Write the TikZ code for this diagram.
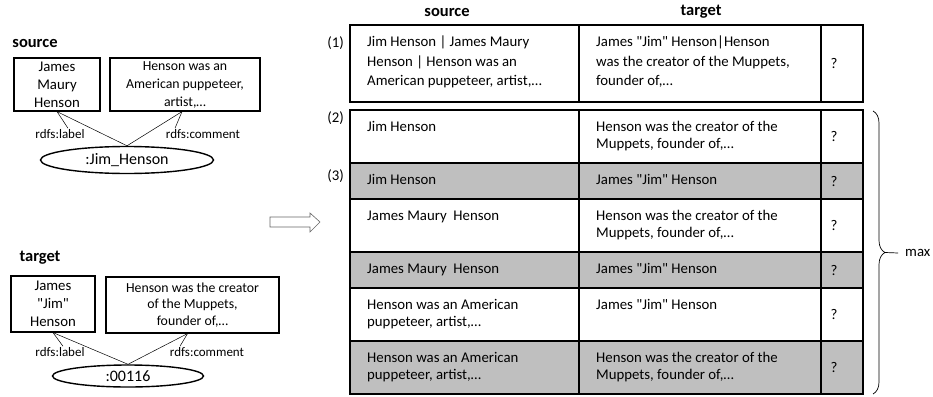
\documentclass[tikz,border=0pt]{standalone}
\usepackage{fontspec}
\setmainfont{Carlito}[Ligatures=TeXOff]
\usetikzlibrary{shapes.geometric,decorations.pathreplacing}
\definecolor{cellgray}{RGB}{191,191,191}

\begin{document}
\begin{tikzpicture}[x=1pt, y=-1pt, font=\fontsize{14.8}{17}\selectfont,
  head/.style={font=\fontsize{16.5}{18}\selectfont\bfseries, inner sep=0pt},
  tab/.style={line width=1.8pt},
  cell/.style={anchor=base west, align=left, inner sep=0pt},
  qmark/.style={inner sep=0pt},
  rowlab/.style={anchor=east, inner sep=0pt},
  box/.style={draw, line width=1.2pt, inner sep=0pt, align=center},
  res/.style={draw, ellipse, line width=1.4pt, inner sep=0pt, font=\fontsize{16}{18}\selectfont},
  prop/.style={inner sep=1pt, font=\fontsize{13}{15}\selectfont},
  edge/.style={line width=0.5pt}]

\useasboundingbox (0,0) rectangle (933,396);

% source graph
\node[head] (srchead) at (35,43) {source};
\node[box, minimum width=86pt, minimum height=53pt, font=\fontsize{14.8}{18}\selectfont] (sA) at (57,84.5) {James\\Maury\\Henson};
\node[box, minimum width=150pt, minimum height=53pt, font=\fontsize{13.8}{18}\selectfont] (sB) at (185,84.5) {Henson was an\\American puppeteer,\\artist,…};
\node[res, minimum width=173pt, minimum height=27pt] (sE) at (127,160) {:Jim\_Henson};
\node[prop] (sL) at (60,134) {rdfs:label};
\node[prop] (sC) at (203,134) {rdfs:comment};
\draw[edge] (sE.north) -- (sA.south);
\draw[edge] (sE.north) -- ([xshift=-3pt]sB.south);
\draw[edge] (sA.south) -- ([xshift=8pt]sL.north);
\draw[edge] ([xshift=-3pt]sB.south) -- ([xshift=-28pt]sC.north);

% target graph
\node[head] (tgthead) at (40,258) {target};
\node[box, minimum width=84pt, minimum height=56pt, font=\fontsize{14.8}{18}\selectfont] (tA) at (53,304) {James\\"Jim"\\Henson};
\node[box, minimum width=173pt, minimum height=56pt, font=\fontsize{13.8}{16.5}\selectfont] (tB) at (192.5,305) {Henson was the creator\\of the Muppets,\\founder of,…};
\node[res, minimum width=151pt, minimum height=22pt] (tE) at (128,376) {:00116};
\node[prop] (tL) at (60,352) {rdfs:label};
\node[prop] (tC) at (207,352) {rdfs:comment};
\draw[edge] (tE.north) -- (tA.south);
\draw[edge] (tE.north) -- ([xshift=-5pt]tB.south);
\draw[edge] (tA.south) -- ([xshift=3pt]tL.north);
\draw[edge] ([xshift=-5pt]tB.south) -- ([xshift=-27pt]tC.north);

% arrow
\draw[black!60, line width=0.6pt] (270,217) -- (310,217) -- (310,213) -- (320,222) -- (310,232) -- (310,227) -- (270,227) -- cycle;

% table
\node[head] (colsrc) at (447,12) {source};
\node[head] (coltgt) at (701,12) {target};

\fill[cellgray] (350,163) rectangle (863,199);
\fill[cellgray] (350,252) rectangle (863,288);
\fill[cellgray] (350,341) rectangle (863,394);

\draw[tab] (350,25) rectangle (863,102);
\draw[tab] (579,25) -- (579,102);
\draw[tab] (821,25) -- (821,102);

\draw[tab] (350,110) rectangle (863,394);
\draw[tab] (579,110) -- (579,394);
\draw[tab] (821,110) -- (821,394);
\draw[tab] (350,163) -- (863,163);
\draw[tab] (350,199) -- (863,199);
\draw[tab] (350,252) -- (863,252);
\draw[tab] (350,288) -- (863,288);
\draw[tab] (350,341) -- (863,341);

\node[rowlab] (r1) at (344,43) {(1)};
\node[rowlab] (r2) at (344,118) {(2)};
\node[rowlab] (r3) at (344,176) {(3)};

\node[cell, font=\fontsize{14.8}{19.5}\selectfont] (s1) at (367,85.5) {Jim Henson | James Maury\\Henson | Henson was an\\American puppeteer, artist,…};
\node[cell, font=\fontsize{14.8}{19.5}\selectfont] (t1) at (596,85.5) {James "Jim" Henson|Henson\\was the creator of the Muppets,\\founder of,…};
\node[qmark] (q1) at (834,63.5) {?};

\node[cell] (s2) at (367,131.5) {Jim Henson};
\node[cell] (t2) at (596,148.5) {Henson was the creator of the\\Muppets, founder of,…};
\node[qmark] (q2) at (834,136.5) {?};

\node[cell] (s3) at (367,184.5) {Jim Henson};
\node[cell] (t3) at (596,184.5) {James "Jim" Henson};
\node[qmark] (q3) at (834,181) {?};

\node[cell] (s4) at (367,220.5) {James Maury\ \ Henson};
\node[cell] (t4) at (596,237.5) {Henson was the creator of the\\Muppets, founder of,…};
\node[qmark] (q4) at (834,225.5) {?};

\node[cell] (s5) at (367,273.5) {James Maury\ \ Henson};
\node[cell] (t5) at (596,273.5) {James "Jim" Henson};
\node[qmark] (q5) at (834,270) {?};

\node[cell] (s6) at (367,326.5) {Henson was an American\\puppeteer, artist,…};
\node[cell] (t6) at (596,309.5) {James "Jim" Henson};
\node[qmark] (q6) at (834,314.5) {?};

\node[cell] (s7) at (367,379.5) {Henson was an American\\puppeteer, artist,…};
\node[cell] (t7) at (596,379.5) {Henson was the creator of the\\Muppets, founder of,…};
\node[qmark] (q7) at (834,367.5) {?};

% brace
\draw[line width=0.7pt, decorate, decoration={brace, amplitude=12pt}] (873,111) -- (873,394);
\coordinate (brtip) at (885,252.5);
\node[inner sep=0pt, anchor=west] (mx) at (905,253) {max};
\draw[line width=0.7pt] (brtip) -- ([xshift=-7pt]mx.west);

\end{tikzpicture}
\end{document}
